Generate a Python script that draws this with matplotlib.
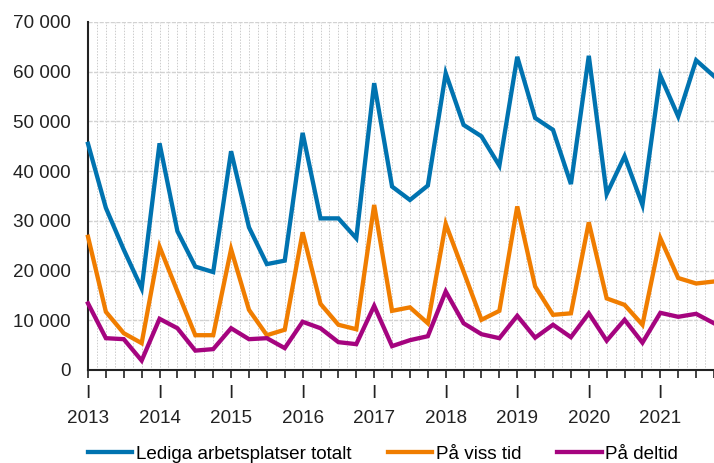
import matplotlib
matplotlib.use("Agg")
import matplotlib.pyplot as plt
from matplotlib.ticker import FuncFormatter, MultipleLocator

# Quarterly data 2013Q1 - 2021Q4
years = list(range(2013, 2022))
totalt = [45500, 32600, 24200, 16400,
          45600, 27900, 20800, 19700,
          44000, 28700, 21300, 22000,
          47700, 30500, 30500, 26500,
          57700, 36900, 34200, 37100,
          59700, 49300, 47000, 41100,
          63000, 50700, 48300, 37400,
          63200, 35400, 43000, 33200,
          59200, 51000, 62300, 59100]
viss_tid = [26800, 11700, 7400, 5400,
            24800, 15800, 7000, 7000,
            24300, 12100, 7000, 8100,
            27700, 13300, 9100, 8200,
            33200, 11900, 12600, 9400,
            29400, 19800, 10100, 11900,
            32900, 16800, 11100, 11400,
            29700, 14400, 13100, 9100,
            26500, 18500, 17400, 17800]
deltid = [13400, 6400, 6200, 1900,
          10300, 8400, 3900, 4200,
          8400, 6200, 6400, 4400,
          9700, 8400, 5600, 5200,
          12900, 4800, 6000, 6800,
          15800, 9400, 7200, 6400,
          10900, 6500, 9100, 6600,
          11400, 5900, 10100, 5500,
          11500, 10700, 11300, 9400]

series = [
    ("Lediga arbetsplatser totalt", totalt, "#0073b0"),
    ("På viss tid", viss_tid, "#f07d00"),
    ("På deltid", deltid, "#a5047f"),
]

plt.rcParams["font.family"] = ["Liberation Sans", "DejaVu Sans"]
FS = 13.6
TXT = "#222222"

fig = plt.figure(figsize=(7.14, 4.63), dpi=100)
ax = fig.add_axes([88 / 714, 1 - 370 / 463, 1 - 88 / 714, (370 - 22) / 463])

x = list(range(len(totalt)))
for label, vals, color in series:
    ax.plot(x, vals, color=color, linewidth=3.1, label=label,
            solid_joinstyle="miter", clip_on=False, zorder=3)

ax.set_xlim(0, len(totalt) - 1)
ax.set_ylim(0, 70000)

# x ticks at every quarter; the year labels (with their "I" marker) are placed below
ax.set_xticks(x)
ax.set_xticklabels([])
ax.xaxis.set_minor_locator(MultipleLocator(0.5))
ax.tick_params(axis="x", which="major", direction="out", length=6, width=1.2, color=TXT)
ax.tick_params(axis="x", which="minor", length=0)
for i, yr in enumerate(years):
    pos = i * 4
    ax.annotate("I", xy=(pos, 0), xycoords=("data", "axes fraction"),
                xytext=(0, -20.2), textcoords="offset points",
                ha="center", va="baseline", fontsize=FS, color=TXT)
    ax.annotate(str(yr), xy=(pos, 0), xycoords=("data", "axes fraction"),
                xytext=(0, -38.2), textcoords="offset points",
                ha="center", va="baseline", fontsize=FS, color=TXT)

ax.yaxis.set_major_locator(MultipleLocator(10000))
ax.yaxis.set_major_formatter(FuncFormatter(lambda v, p: f"{int(v):,}".replace(",", " ")))
ax.tick_params(axis="y", length=0, pad=12.5, labelsize=FS, labelcolor=TXT)

ax.grid(axis="x", which="both", color="#cccccc", linestyle=(0, (1.5, 1.5)), linewidth=0.7)
ax.grid(axis="y", which="major", color="#d2d2d2", linestyle=(0, (3, 1)), linewidth=1.0)
ax.set_axisbelow(True)

for side in ("top", "right"):
    ax.spines[side].set_visible(False)
for side in ("left", "bottom"):
    ax.spines[side].set_color(TXT)
    ax.spines[side].set_linewidth(1.5)

fig.legend(loc="center left", bbox_to_anchor=(88 / 714, 1 - 454 / 463), ncol=3,
           frameon=False, fontsize=FS, handlelength=2.35, handletextpad=0.2,
           columnspacing=1.9, borderpad=0, borderaxespad=0)

fig.savefig("out.png", dpi=100)
